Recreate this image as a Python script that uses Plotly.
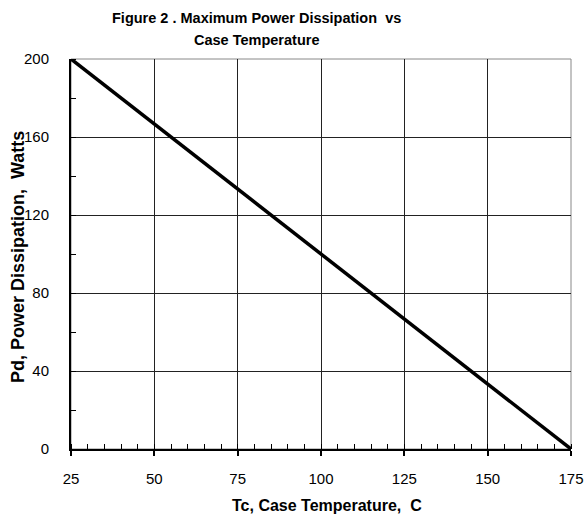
import plotly.graph_objects as go

# Data
temp_c = [25, 175]
power_w = [200, 0]
x_ticks = [25, 50, 75, 100, 125, 150, 175]
y_ticks = [0, 40, 80, 120, 160, 200]

FONT = "Liberation Sans, Arial, sans-serif"
W, H = 587, 517
L, T, R = 71, 59, 16
B = H - 449
PW, PH = W - L - R, H - T - B


def px_x(sx):
    return (sx - L) / PW


def px_y(sy):
    return 1 - (sy - T) / PH


fig = go.Figure()
fig.add_trace(go.Scatter(x=temp_c, y=power_w, mode="lines",
                         line=dict(color="black", width=3.5), showlegend=False,
                         cliponaxis=False))

fig.update_layout(
    width=W, height=H,
    margin=dict(l=L, r=R, t=T, b=B, autoexpand=False),
    paper_bgcolor="white", plot_bgcolor="white",
    font=dict(family=FONT, color="black", size=15),
    annotations=[
        dict(text="<b>Figure 2 . Maximum Power Dissipation  vs</b>",
             x=px_x(256), xref="paper", xanchor="center",
             y=px_y(18), yref="paper", yanchor="middle",
             showarrow=False, font=dict(size=14.5, family=FONT)),
        dict(text="<b>Case Temperature</b>",
             x=px_x(256), xref="paper", xanchor="center",
             y=px_y(40), yref="paper", yanchor="middle",
             showarrow=False, font=dict(size=14.5, family=FONT)),
        dict(text="<b>Tc, Case Temperature,  C</b>",
             x=px_x(327), xref="paper", xanchor="center",
             y=px_y(505), yref="paper", yanchor="middle",
             showarrow=False, font=dict(size=16, family=FONT)),
        dict(text="<b>Pd, Power Dissipation,  Watts</b>", textangle=-90,
             x=px_x(18), xref="paper", xanchor="center",
             y=px_y(257), yref="paper", yanchor="middle",
             showarrow=False, font=dict(size=18, family=FONT)),
    ],
    shapes=[dict(type="rect", xref="paper", yref="paper", x0=0, x1=1, y0=0, y1=1,
                 line=dict(color="#888", width=1), layer="below")],
)

fig.update_xaxes(
    range=[25, 175], tickvals=x_ticks, ticktext=[str(v) for v in x_ticks],
    showgrid=True, gridcolor="#222", gridwidth=1,
    showline=True, linecolor="black", linewidth=2,
    ticks="outside", ticklen=5, tickcolor="black", tickwidth=1.5,
    minor=dict(ticks="inside", dtick=5, tick0=25, ticklen=5, tickcolor="black", tickwidth=1, showgrid=False),
    zeroline=False, ticklabelstandoff=10, automargin=False,
    tickfont=dict(size=15, family=FONT),
)
fig.update_yaxes(
    range=[0, 200], tickvals=y_ticks, ticktext=[str(v) for v in y_ticks],
    showgrid=True, gridcolor="#222", gridwidth=1,
    showline=True, linecolor="black", linewidth=2,
    ticks="",
    minor=dict(ticks="inside", dtick=20, tick0=0, ticklen=5, tickcolor="black", tickwidth=1, showgrid=False),
    zeroline=False, ticklabelstandoff=17, automargin=False,
    tickfont=dict(size=15, family=FONT),
)

fig.write_html("out.html", config={"displayModeBar": False},
               post_script="document.body.style.margin='0px';document.body.style.overflow='hidden';")
